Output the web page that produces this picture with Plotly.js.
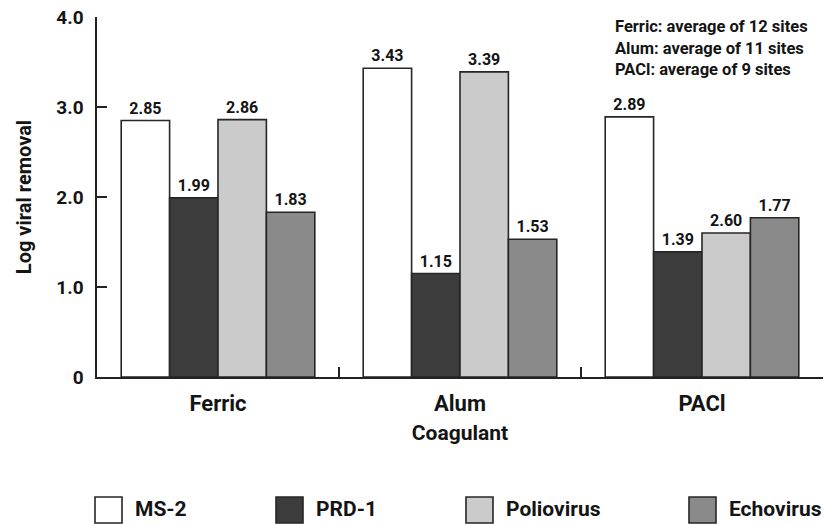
<!DOCTYPE html>
<html><head><meta charset="utf-8">
<script src="https://cdn.plot.ly/plotly-3.0.1.min.js"></script>
<style>html,body{margin:0;padding:0;background:#fff}</style>
</head><body><div id="chart" style="width:825px;height:524px"></div>
<script>
const categories = ['Ferric', 'Alum', 'PACl'];
const seriesNames = ['MS-2', 'PRD-1', 'Poliovirus', 'Echovirus'];
const ms2 = [2.85, 3.43, 2.89];
const prd1 = [1.99, 1.15, 1.39];
const polio = [2.86, 3.39, 1.60];
const echo = [1.83, 1.53, 1.77];
const ms2Labels = ['2.85', '3.43', '2.89'];
const prd1Labels = ['1.99', '1.15', '1.39'];
const polioLabels = ['2.86', '3.39', '2.60'];
const echoLabels = ['1.83', '1.53', '1.77'];
const yTickVals = [0, 1, 2, 3, 4];
const yTickText = ['0', '1.0', '2.0', '3.0', '4.0'];
const noteLines = ['Ferric: average of 12 sites', 'Alum: average of 11 sites', 'PACl: average of 9 sites'];

const FONT = 'Roboto, "Liberation Sans", sans-serif';
const INK = '#141414';
const colors = ['#ffffff', '#3c3c3c', '#cbcbcb', '#8a8a8a'];
const values = [ms2, prd1, polio, echo];
const labels = [ms2Labels, prd1Labels, polioLabels, echoLabels];

const traces = seriesNames.map((name, i) => ({
  type: 'bar',
  name: name,
  x: categories,
  y: values[i],
  text: labels[i],
  textposition: 'outside',
  constraintext: 'none',
  cliponaxis: false,
  textfont: {family: FONT, size: 16, color: INK, weight: 'bold'},
  marker: {color: colors[i], line: {color: '#262626', width: 1.6}},
  showlegend: false,
  hoverinfo: 'skip'
}));

// plot area geometry (pixels) for placing the hand-made legend & notes
const PL = 97, PW = 726, PT = 17, PH = 360;
const px = v => (v - PL) / PW;
const py = v => (PT + PH - v) / PH;

const noteCenters = [26, 48, 69];
const annotations = noteLines.map((t, i) => ({
  text: t, xref: 'paper', yref: 'paper', x: px(613), y: py(noteCenters[i]),
  xanchor: 'left', yanchor: 'middle', showarrow: false,
  font: {family: FONT, size: 16.5, color: INK, weight: 'bold'}
}));

const legendBoxLeft = [95, 276, 466, 689];
const shapes = [];
seriesNames.forEach((name, i) => {
  shapes.push({
    type: 'rect', xref: 'paper', yref: 'paper',
    x0: px(legendBoxLeft[i]), x1: px(legendBoxLeft[i] + 27),
    y0: py(497), y1: py(523),
    fillcolor: colors[i], line: {color: '#262626', width: 1.6}
  });
  annotations.push({
    text: name, xref: 'paper', yref: 'paper',
    x: px(legendBoxLeft[i] + 38), y: py(509),
    xanchor: 'left', yanchor: 'middle', showarrow: false,
    font: {family: FONT, size: 21, color: INK, weight: 'bold'}
  });
});

const layout = {
  width: 825, height: 524,
  margin: {l: PL, r: 825 - PL - PW, t: PT, b: 524 - PT - PH},
  paper_bgcolor: '#fff', plot_bgcolor: '#fff',
  barmode: 'group', bargap: 0.2, bargroupgap: 0,
  font: {family: FONT, color: INK, weight: 'bold'},
  xaxis: {
    type: 'category', showline: true, linecolor: '#222', linewidth: 1.6,
    ticks: 'inside', tickson: 'boundaries', ticklen: 10, tickcolor: '#222', tickwidth: 1.6,
    ticklabelstandoff: 6,
    tickfont: {family: FONT, size: 22, color: INK, weight: 'bold'},
    title: {text: 'Coagulant', font: {family: FONT, size: 21, color: INK, weight: 'bold'}, standoff: 10},
    showgrid: false, zeroline: false, automargin: false, fixedrange: true
  },
  yaxis: {
    range: [0, 4], showline: true, linecolor: '#222', linewidth: 1.6,
    ticks: 'inside', ticklen: 10, tickcolor: '#222', tickwidth: 1.6,
    tickvals: yTickVals, ticktext: yTickText, ticklabelstandoff: 8,
    tickfont: {family: FONT, size: 19, color: INK, weight: 'bold'},
    title: {text: 'Log viral removal', font: {family: FONT, size: 20, color: INK, weight: 'bold'}, standoff: 19},
    showgrid: false, zeroline: false, automargin: false, fixedrange: true
  },
  showlegend: false,
  shapes: shapes,
  annotations: annotations
};

Plotly.newPlot('chart', traces, layout, {displayModeBar: false, staticPlot: true});
</script>
</body></html>
